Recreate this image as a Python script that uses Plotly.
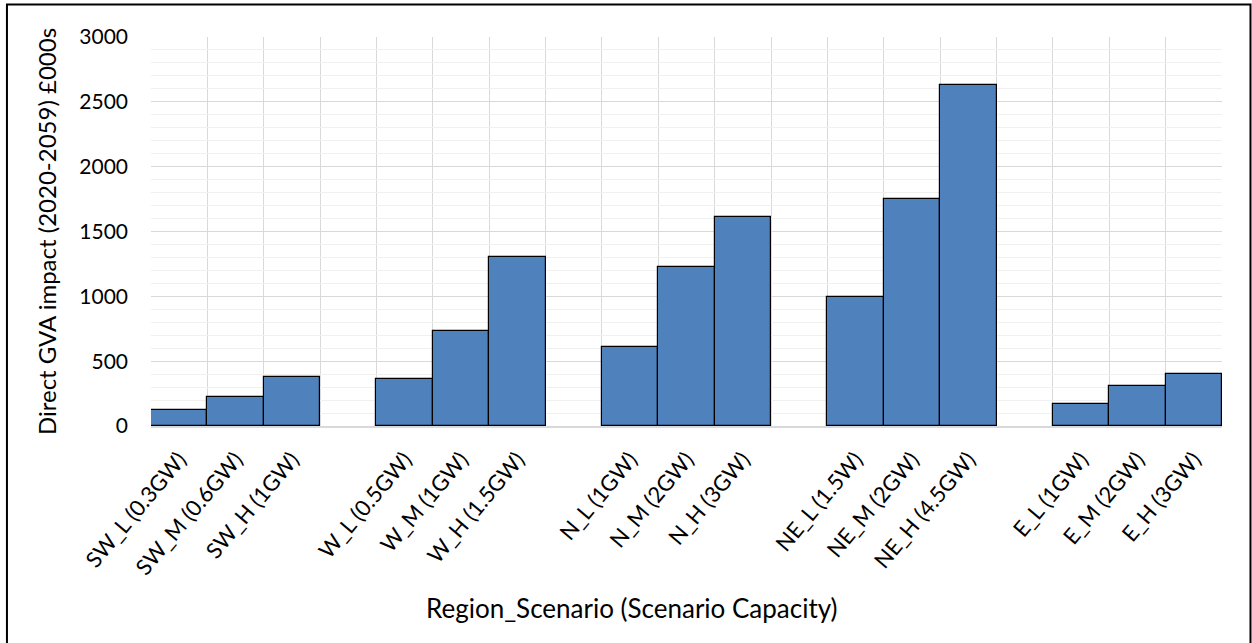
import plotly.graph_objects as go

# Direct GVA impact by region and scenario (£000s)
regions = ["SW", "W", "N", "NE", "E"]
labels = [
    ["SW_L (0.3GW)", "SW_M (0.6GW)", "SW_H (1GW)"],
    ["W_L (0.5GW)", "W_M (1GW)", "W_H (1.5GW)"],
    ["N_L (1GW)", "N_M (2GW)", "N_H (3GW)"],
    ["NE_L (1.5W)", "NE_M (2GW)", "NE_H (4.5GW)"],
    ["E_L (1GW)", "E_M (2GW)", "E_H (3GW)"],
]
gva = [
    [123, 221, 376],
    [363, 735, 1301],
    [607, 1224, 1612],
    [995, 1753, 2630],
    [170, 306, 403],
]

# Three bars per region, one empty slot between regions
xs, ys, texts = [], [], []
for g, (lab, val) in enumerate(zip(labels, gva)):
    for i, (l, v) in enumerate(zip(lab, val)):
        xs.append(g * 4 + i)
        ys.append(v)
        texts.append(l)

FONT = "Lato"

fig = go.Figure(
    go.Bar(
        x=xs, y=ys, width=1,
        marker=dict(color="#4f81bd", line=dict(color="#000000", width=1.2)),
        hovertext=texts,
    )
)

fig.update_layout(
    width=1252, height=643,
    margin=dict(l=151, r=30, t=37, b=217, autoexpand=False),
    paper_bgcolor="white", plot_bgcolor="white",
    bargap=0, showlegend=False,
    font=dict(family=FONT, size=20, color="#000000"),
    shapes=[dict(
        type="rect", xref="paper", yref="paper",
        x0=-0.1345, x1=1.0266, y0=-0.6, y1=1.0835,
        line=dict(color="#000000", width=2), fillcolor="rgba(0,0,0,0)",
        layer="below",
    )],
    annotations=[dict(
        text="Region_Scenario (Scenario Capacity)",
        xref="paper", yref="paper", x=0.4487, y=-0.467,
        xanchor="center", yanchor="middle", showarrow=False,
        font=dict(family=FONT, size=26),
    )],
)

fig.update_xaxes(
    range=[-0.5, 18.5], automargin=False,
    tickmode="array", tickvals=xs, ticktext=texts, tickangle=-50,
    showgrid=False, zeroline=False,
    showline=True, linecolor="#d9d9d9", linewidth=1.5,
    ticks="", ticklabelstandoff=10,
    tickfont=dict(family=FONT, size=22),
    minor=dict(tick0=-0.5, dtick=1, showgrid=True, gridcolor="#d9d9d9", gridwidth=1, ticks=""),
)

fig.update_yaxes(
    range=[0, 3000], tickmode="linear", tick0=0, dtick=500, automargin=False,
    showgrid=True, gridcolor="#d9d9d9", gridwidth=1,
    zeroline=False, showline=False, ticks="",
    ticklabelstandoff=22,
    tickfont=dict(family=FONT, size=21),
    minor=dict(dtick=100, showgrid=True, gridcolor="#f0f0f0", gridwidth=1, ticks=""),
    title=dict(text="Direct GVA impact (2020-2059) £000s", font=dict(family=FONT, size=24), standoff=15),
)

fig.write_html("out.html")
